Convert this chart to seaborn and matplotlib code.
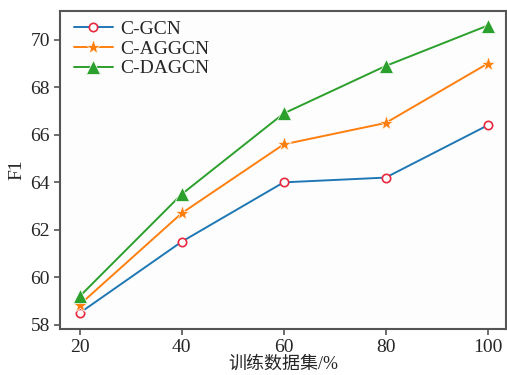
import numpy as np
import pandas as pd
import matplotlib
matplotlib.use("Agg")
import matplotlib.pyplot as plt
import seaborn as sns

train_pct = [20, 40, 60, 80, 100]
gcn = [58.5, 61.5, 64.0, 64.2, 66.4]
aggcn = [58.85, 62.7, 65.6, 66.5, 69.0]
dagcn = [59.2, 63.5, 66.9, 68.9, 70.6]
x_label = "训练数据集/%"
y_label = "F1"

sns.set_style("ticks")
plt.rcParams['font.family'] = ['Liberation Serif', 'Noto Sans CJK SC']

fig = plt.figure(figsize=(5.07, 3.75), dpi=100)
ax = fig.add_axes([0.118, 0.123, 0.88, 0.848])
ax.set_facecolor("#fdfdfd")

styles = [
    ("C-GCN", gcn, dict(color="#1f77b4", marker="o", markersize=6, markerfacecolor="white",
                        markeredgecolor="#e8283c", markeredgewidth=1.2)),
    ("C-AGGCN", aggcn, dict(color="#ff7f0e", marker="*", markersize=11, markeredgewidth=0.5)),
    ("C-DAGCN", dagcn, dict(color="#2ca02c", marker="^", markersize=10, markeredgewidth=0.5)),
]
for name, vals, kw in styles:
    df = pd.DataFrame({"x": train_pct, "y": vals})
    sns.lineplot(data=df, x="x", y="y", ax=ax, label=name, linewidth=1.4, **kw)

ax.set_xlim(16.1, 103.6)
ax.set_ylim(57.83, 71.22)
ax.set_xticks(train_pct)
ax.set_yticks([58, 60, 62, 64, 66, 68, 70])
ax.set_xlabel(x_label, fontsize=13, labelpad=0)
ax.set_ylabel(y_label, fontsize=14, labelpad=4)
ax.tick_params(labelsize=14, length=4, width=1.2, color="#555555", pad=3)
for s in ax.spines.values():
    s.set_linewidth(1.5)
    s.set_color("#555555")

leg = ax.legend(loc="upper left", frameon=False, fontsize=14, handlelength=2.0,
                borderpad=0.0, labelspacing=0.1, handletextpad=0.4,
                bbox_to_anchor=(0.01, 1.0))

fig.savefig("out.png", dpi=100)
